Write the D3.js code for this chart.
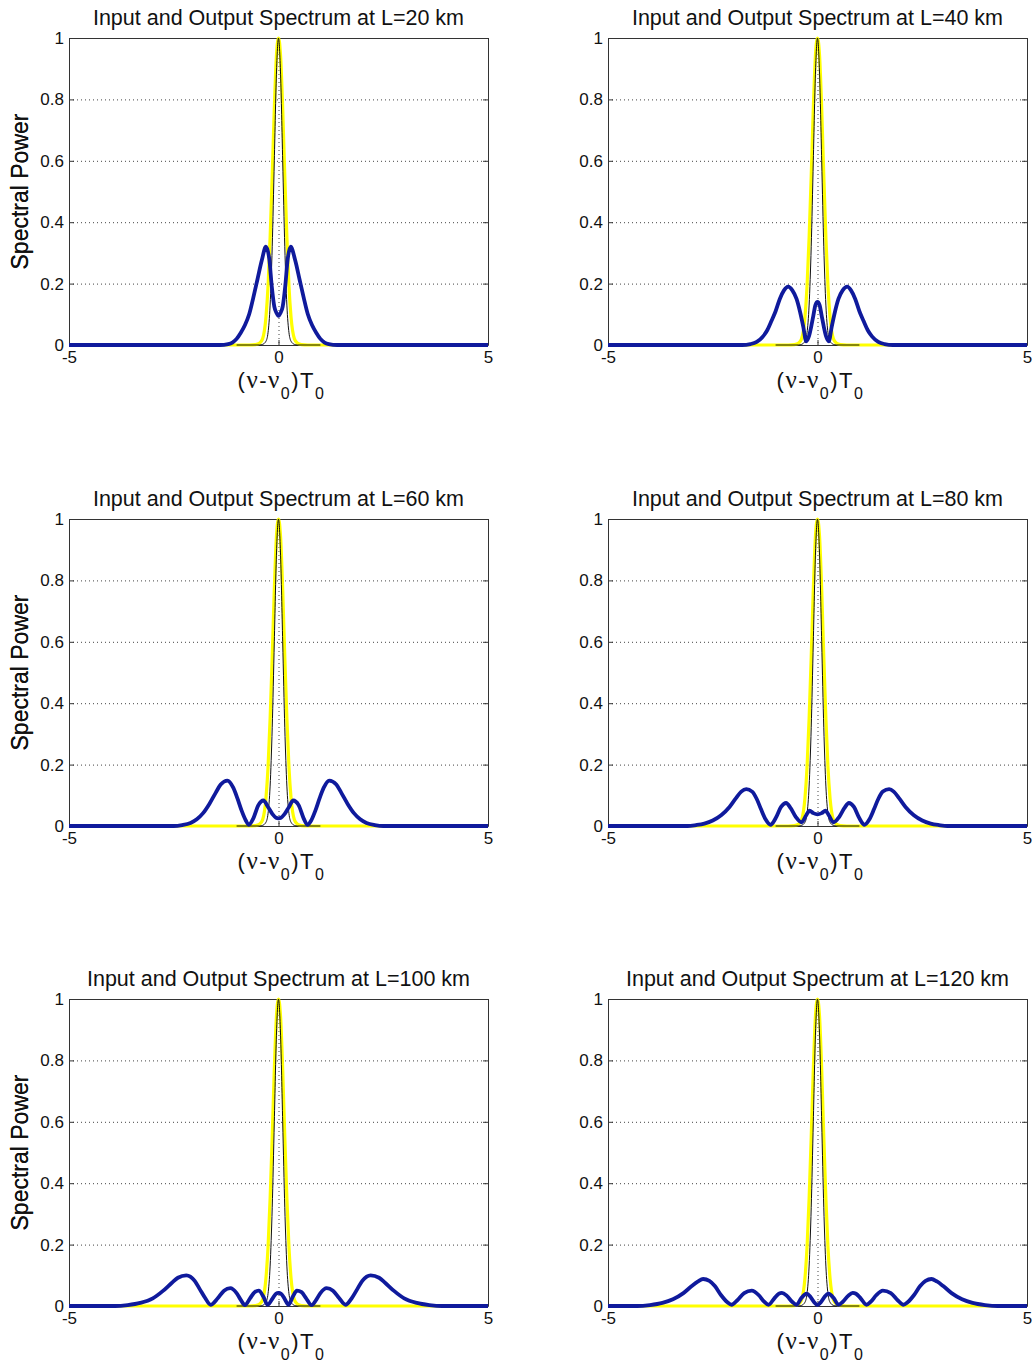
<!DOCTYPE html>
<html><head><meta charset="utf-8">
<script src="https://cdn.jsdelivr.net/npm/d3@7"></script>
<style>
body{margin:0;background:#fff}
svg{display:block}
text{font-family:"Liberation Sans",Arial,Helvetica,sans-serif;fill:#111}
</style>
</head><body>
<svg id="chart" width="1035" height="1369"></svg>
<script>
// ---------- data ----------
const lengthsKm = [20, 40, 60, 80, 100, 120];
const xTickValues = [-5, 0, 5];
const xTickLabels = ["-5", "0", "5"];
const yTickValues = [0, 0.2, 0.4, 0.6, 0.8, 1];
const yTickLabels = ["0", "0.2", "0.4", "0.6", "0.8", "1"];
const gridYValues = [0.2, 0.4, 0.6, 0.8];
const gridXValues = [0];

// input spectrum (yellow, thick)
const inputSpectrum = [[-5,0],[-0.7,0],[-0.55,0.001],[-0.45,0.006],[-0.38,0.02],[-0.3,0.09],[-0.25,0.19],[-0.2,0.35],[-0.15,0.55],[-0.1,0.77],[-0.05,0.94],[0,1],[0.05,0.94],[0.1,0.77],[0.15,0.55],[0.2,0.35],[0.25,0.19],[0.3,0.09],[0.38,0.02],[0.45,0.006],[0.55,0.001],[0.7,0],[5,0]];
// thin dark input trace
const inputCore = [[-1,0],[-0.45,0],[-0.38,0.002],[-0.3,0.012],[-0.25,0.04],[-0.2,0.13],[-0.15,0.32],[-0.1,0.6],[-0.05,0.88],[0,1],[0.05,0.88],[0.1,0.6],[0.15,0.32],[0.2,0.13],[0.25,0.04],[0.3,0.012],[0.38,0.002],[0.45,0],[1,0]];

// output spectra (blue)
const output20 = [[-5,0],[-1.4,0],[-1.2,0.003],[-1.1,0.008],[-1.0,0.02],[-0.9,0.04],[-0.8,0.065],[-0.7,0.1],[-0.6,0.155],[-0.5,0.215],[-0.4,0.275],[-0.3,0.32],[-0.22,0.28],[-0.16,0.19],[-0.1,0.125],[-0.05,0.105],[0,0.095],[0.05,0.105],[0.1,0.125],[0.16,0.19],[0.22,0.28],[0.29,0.32],[0.4,0.275],[0.5,0.215],[0.6,0.155],[0.7,0.1],[0.8,0.065],[0.9,0.04],[1.0,0.02],[1.1,0.008],[1.2,0.003],[1.4,0],[5,0]];
const output40 = [[-5,0],[-1.8,0],[-1.6,0.003],[-1.45,0.01],[-1.3,0.028],[-1.2,0.048],[-1.1,0.078],[-1.0,0.11],[-0.9,0.15],[-0.8,0.178],[-0.7,0.19],[-0.6,0.178],[-0.5,0.15],[-0.42,0.11],[-0.34,0.06],[-0.27,0.012],[-0.2,0.03],[-0.15,0.06],[-0.1,0.095],[-0.05,0.13],[0,0.14],[0.05,0.13],[0.1,0.095],[0.15,0.06],[0.2,0.03],[0.27,0.012],[0.34,0.06],[0.42,0.11],[0.5,0.15],[0.6,0.178],[0.71,0.19],[0.8,0.178],[0.9,0.15],[1.0,0.11],[1.1,0.078],[1.2,0.048],[1.3,0.028],[1.45,0.01],[1.6,0.003],[1.8,0],[5,0]];
const output60 = [[-5,0],[-2.5,0],[-2.3,0.003],[-2.1,0.01],[-1.95,0.022],[-1.8,0.042],[-1.65,0.072],[-1.5,0.108],[-1.38,0.135],[-1.22,0.148],[-1.08,0.125],[-0.98,0.09],[-0.88,0.05],[-0.78,0.018],[-0.71,0.004],[-0.6,0.025],[-0.48,0.068],[-0.36,0.083],[-0.25,0.062],[-0.14,0.038],[-0.06,0.027],[0,0.025],[0.06,0.027],[0.14,0.038],[0.25,0.062],[0.35,0.083],[0.48,0.068],[0.6,0.025],[0.69,0.004],[0.78,0.018],[0.88,0.05],[0.98,0.09],[1.08,0.125],[1.21,0.148],[1.38,0.135],[1.5,0.108],[1.65,0.072],[1.8,0.042],[1.95,0.022],[2.1,0.01],[2.3,0.003],[2.5,0],[5,0]];
const output80 = [[-5,0],[-3.1,0],[-2.9,0.003],[-2.7,0.008],[-2.5,0.018],[-2.3,0.035],[-2.1,0.062],[-1.95,0.09],[-1.82,0.112],[-1.7,0.12],[-1.56,0.112],[-1.45,0.088],[-1.35,0.055],[-1.24,0.022],[-1.12,0.004],[-1.0,0.025],[-0.87,0.062],[-0.75,0.075],[-0.64,0.058],[-0.52,0.03],[-0.38,0.012],[-0.27,0.035],[-0.19,0.05],[-0.1,0.042],[0,0.038],[0.1,0.042],[0.19,0.05],[0.27,0.035],[0.38,0.012],[0.52,0.03],[0.64,0.058],[0.75,0.075],[0.87,0.062],[1.0,0.025],[1.12,0.004],[1.24,0.022],[1.35,0.055],[1.45,0.088],[1.56,0.112],[1.71,0.12],[1.82,0.112],[1.95,0.09],[2.1,0.062],[2.3,0.035],[2.5,0.018],[2.7,0.008],[2.9,0.003],[3.1,0],[5,0]];
const output100 = [[-5,0],[-3.9,0],[-3.6,0.003],[-3.3,0.01],[-3.0,0.025],[-2.75,0.05],[-2.55,0.075],[-2.4,0.092],[-2.2,0.1],[-2.0,0.082],[-1.88,0.055],[-1.75,0.026],[-1.62,0.004],[-1.45,0.025],[-1.3,0.05],[-1.15,0.058],[-1.0,0.042],[-0.9,0.02],[-0.8,0.003],[-0.68,0.025],[-0.57,0.045],[-0.47,0.05],[-0.36,0.03],[-0.26,0.004],[-0.14,0.025],[-0.06,0.04],[0,0.043],[0.06,0.04],[0.14,0.025],[0.24,0.004],[0.34,0.03],[0.44,0.05],[0.55,0.045],[0.66,0.025],[0.79,0.003],[0.9,0.02],[1.0,0.042],[1.15,0.058],[1.3,0.05],[1.45,0.025],[1.6,0.004],[1.75,0.026],[1.88,0.055],[2.0,0.082],[2.2,0.1],[2.4,0.092],[2.55,0.075],[2.75,0.05],[3.0,0.025],[3.3,0.01],[3.6,0.003],[3.9,0],[5,0]];
const output120 = [[-5,0],[-4.3,0],[-4.0,0.003],[-3.7,0.01],[-3.45,0.022],[-3.2,0.042],[-3.0,0.065],[-2.85,0.08],[-2.73,0.088],[-2.58,0.082],[-2.45,0.065],[-2.3,0.035],[-2.15,0.012],[-2.05,0.004],[-1.92,0.018],[-1.75,0.042],[-1.57,0.05],[-1.4,0.035],[-1.28,0.015],[-1.17,0.004],[-1.03,0.025],[-0.92,0.04],[-0.85,0.043],[-0.73,0.033],[-0.6,0.013],[-0.5,0.004],[-0.39,0.025],[-0.3,0.038],[-0.26,0.04],[-0.17,0.03],[-0.08,0.012],[0,0.003],[0.08,0.012],[0.17,0.03],[0.26,0.04],[0.3,0.038],[0.39,0.025],[0.5,0.004],[0.6,0.013],[0.73,0.033],[0.84,0.043],[0.92,0.04],[1.03,0.025],[1.17,0.004],[1.28,0.015],[1.4,0.035],[1.56,0.05],[1.75,0.042],[1.92,0.018],[2.05,0.004],[2.15,0.012],[2.3,0.035],[2.45,0.065],[2.58,0.082],[2.72,0.088],[2.85,0.08],[3.0,0.065],[3.2,0.042],[3.45,0.022],[3.7,0.01],[4.0,0.003],[4.3,0],[5,0]];
const outputs = [output20, output40, output60, output80, output100, output120];

// ---------- layout ----------
const colX = [69, 608];
const rowY = [38, 519, 999];
const W = 419, H = 307;

const svg = d3.select("#chart");
const x = d3.scaleLinear().domain([-5, 5]).range([0, W]);
const y = d3.scaleLinear().domain([0, 1]).range([H, 0]);
const line = d3.line().x(d => x(d[0])).y(d => y(d[1])).curve(d3.curveMonotoneX);

lengthsKm.forEach((L, i) => {
  const g = svg.append("g").attr("transform", `translate(${colX[i % 2]},${rowY[Math.floor(i / 2)]})`);

  // grid
  g.selectAll(".gy").data(gridYValues).join("line")
    .attr("x1", 0).attr("x2", W).attr("y1", d => y(d) + 0.5).attr("y2", d => y(d) + 0.5)
    .attr("stroke", "#444").attr("stroke-width", 1).attr("stroke-dasharray", "1,3");
  g.selectAll(".gx").data(gridXValues).join("line")
    .attr("x1", d => x(d) + 0.5).attr("x2", d => x(d) + 0.5).attr("y1", 0).attr("y2", H)
    .attr("stroke", "#444").attr("stroke-width", 1).attr("stroke-dasharray", "1,3");

  // axes (box with inward ticks)
  const ax = [
    d3.axisBottom(x).tickValues(xTickValues).tickFormat((d, k) => xTickLabels[k]).tickSize(-5).tickSizeOuter(0).tickPadding(6),
    d3.axisTop(x).tickValues(xTickValues).tickFormat("").tickSize(-5).tickSizeOuter(0),
    d3.axisLeft(y).tickValues(yTickValues).tickFormat((d, k) => yTickLabels[k]).tickSize(-5).tickSizeOuter(0).tickPadding(5),
    d3.axisRight(y).tickValues(yTickValues).tickFormat("").tickSize(-5).tickSizeOuter(0)
  ];
  const tr = [`translate(0,${H})`, "translate(0,0)", "translate(0,0)", `translate(${W},0)`];
  ax.forEach((a, k) => {
    const ag = g.append("g").attr("transform", tr[k]).call(a);
    ag.select(".domain").attr("stroke", "#333");
    ag.selectAll(".tick line").attr("stroke", "#333");
    ag.selectAll(".tick text").attr("font-size", 17).attr("font-family", "Liberation Sans, Arial, sans-serif").attr("fill", "#111");
  });

  // curves
  g.append("path").datum(inputSpectrum).attr("d", line)
    .attr("fill", "none").attr("stroke", "#ffff00").attr("stroke-width", 3.2);
  g.append("path").datum(inputCore).attr("d", line)
    .attr("fill", "none").attr("stroke", "#111").attr("stroke-width", 1);
  g.append("path").datum(outputs[i]).attr("d", line)
    .attr("fill", "none").attr("stroke", "#0f1a9c").attr("stroke-width", 3.8).attr("stroke-linejoin", "round");

  // title
  g.append("text").attr("x", W / 2).attr("y", -13).attr("text-anchor", "middle")
    .attr("font-size", 21.5).text(`Input and Output Spectrum at L=${L} km`);

  // y label
  g.append("text").attr("transform", `translate(${28 - colX[i % 2]},${H / 2}) rotate(-90)`)
    .attr("text-anchor", "middle").attr("font-size", 23).text("Spectral Power");

  // x label
  const xl = g.append("text").attr("x", W / 2 + 3).attr("y", H + 43).attr("text-anchor", "middle")
    .attr("font-size", 22).attr("letter-spacing", 1.5);
  xl.append("tspan").text("(");
  xl.append("tspan").attr("font-family", "Liberation Serif, serif").attr("font-size", 25).text("ν");
  xl.append("tspan").text("-");
  xl.append("tspan").attr("font-family", "Liberation Serif, serif").attr("font-size", 25).text("ν");
  xl.append("tspan").attr("dy", 11).attr("font-size", 16).text("0");
  xl.append("tspan").attr("dy", -11).text(")T");
  xl.append("tspan").attr("dy", 11).attr("font-size", 16).text("0");
});
</script>
</body></html>
